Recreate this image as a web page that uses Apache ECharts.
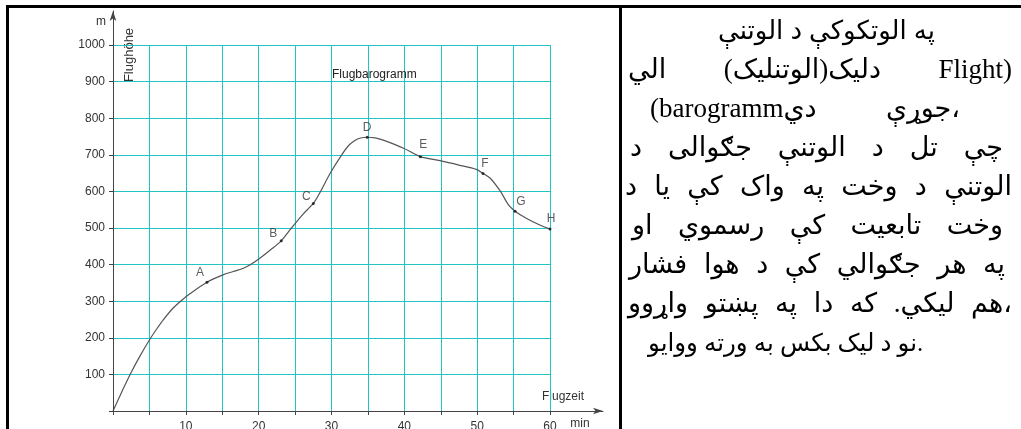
<!DOCTYPE html>
<html>
<head>
<meta charset="utf-8">
<script src="https://cdn.jsdelivr.net/npm/echarts@6/dist/echarts.min.js"></script>
<style>
  body { margin: 0; background: #fff; }
  #page { position: relative; width: 1021px; height: 429px; overflow: hidden; background: #fff; }
  #chart { position: absolute; left: 0; top: 0; width: 1021px; height: 429px; }
  .rule { position: absolute; background: #000; }
  .ln {
    position: absolute;
    height: 39px;
    line-height: 39px;
    font-family: "Liberation Serif", "DejaVu Sans", serif;
    font-size: 27px;
    color: #000;
    white-space: nowrap;
    text-align: justify;
    text-align-last: justify;
  }
</style>
</head>
<body>
<div id="page">
  <div id="chart"></div>
  <div class="rule" style="left:6px;top:5px;width:1015px;height:3px"></div>
  <div class="rule" style="left:6px;top:5px;width:3px;height:424px"></div>
  <div class="rule" style="left:619px;top:5px;width:3px;height:424px"></div>

  <div class="ln" dir="ltr" style="top:11px;left:718px;width:217px">په الوتکوکې د الوتنې</div>
  <div class="ln" dir="ltr" style="top:50px;left:628px;width:384px">دلیک(الوتنلیک) الي Flight)</div>
  <div class="ln" dir="ltr" style="top:89px;left:650px;width:310px">(barogrammجوړې دي،</div>
  <div class="ln" dir="ltr" style="top:128px;left:630px;width:373px">چې تل  د الوتنې جګوالی د</div>
  <div class="ln" dir="ltr" style="top:167px;left:625px;width:387px">الوتنې د وخت په واک کې  یا د</div>
  <div class="ln" dir="ltr" style="top:206px;left:632px;width:371px">وخت   تابعیت کې رسموي  او</div>
  <div class="ln" dir="ltr" style="top:245px;left:629px;width:376px">په هر جګوالي کې د هوا فشار</div>
  <div class="ln" dir="ltr" style="top:284px;left:628px;width:384px">هم لیکي. که دا په پښتو واړوو،</div>
  <div class="ln" dir="ltr" style="top:323px;left:648px;width:274px">نو د لیک بکس به ورته ووایو.</div>
</div>

<script>
// flight time (min) and altitude (m)
const flightMinutes = [0, 1.2, 2.4, 3.7, 5, 6.0, 6.9, 8.2, 9.4, 10.6, 12.9, 15.1, 16.5, 17.9, 18.9, 20.2, 21.6, 23.1, 24.5, 26.1, 27.5, 28.5, 29.8, 31.4, 32.3, 33.2, 34.0, 34.9, 36.0, 37.1, 39.9, 42.2, 44.9, 47.5, 49.9, 50.8, 51.8, 53.2, 54.3, 55.2, 56.8, 58.6, 60];
const flightHeights = [0, 52, 102, 150, 194, 224, 249, 280, 302, 321, 352, 372, 381, 390, 400, 418, 440, 465, 500, 538, 567, 600, 649, 700, 724, 739, 746, 748, 746, 740, 718, 695, 684, 672, 660, 649, 636, 600, 563, 546, 526, 508, 497];

// marked points A..H
const markNames = ['A', 'B', 'C', 'D', 'E', 'F', 'G', 'H'];
const markMinutes = [12.9, 23.1, 27.5, 34.9, 42.2, 50.8, 55.2, 60];
const markHeights = [352, 465, 567, 748, 695, 649, 546, 497];

// tick labels
const minuteLabels = [10, 20, 30, 40, 50, 60];
const heightLabels = [100, 200, 300, 400, 500, 600, 700, 800, 900, 1000];

const FONT = '"Liberation Sans", Arial, sans-serif';
const TXT = '#333';
const GRIDCOL = '#22c4c4';

// label nudges for the letters (px)
const letterShift = [[-7, -9], [-8, -7], [-7, -7], [0, -10], [3, -12], [2, -10], [6, -9], [1, -10]];

const chart = echarts.init(document.getElementById('chart'), null, { renderer: 'canvas' });

const option = {
  backgroundColor: 'transparent',
  animation: false,
  title: {
    text: 'Flugbarogramm',
    left: 332,
    top: 69,
    padding: 0,
    textStyle: { fontSize: 12, fontWeight: 'normal', color: '#222', fontFamily: FONT },
  },
  grid: [
    { left: 113, top: 45, right: 471, bottom: 18, outerBoundsMode: 'none', containLabel: false },
    { left: 113, top: 11, right: 418, bottom: 18, outerBoundsMode: 'none', containLabel: false },
  ],
  xAxis: [
    {
      gridIndex: 0,
      type: 'value',
      min: 0,
      max: 60,
      interval: 5,
      axisLine: { show: false },
      axisTick: { show: true, length: 4, lineStyle: { color: '#444' } },
      axisLabel: {
        margin: 10,
        color: TXT,
        fontSize: 12,
        fontFamily: FONT,
        formatter: (v) => (minuteLabels.includes(v) ? String(v) : ''),
      },
      splitLine: { show: true, lineStyle: { color: GRIDCOL, width: 1 } },
    },
    {
      gridIndex: 1,
      type: 'value',
      min: 0,
      max: 1,
      z: 5,
      axisLine: {
        show: true,
        symbol: ['none', 'arrow'],
        symbolSize: [5, 10],
        lineStyle: { color: '#444', width: 1 },
      },
      axisTick: { show: false },
      axisLabel: { show: false },
      splitLine: { show: false },
    },
  ],
  yAxis: [
    {
      gridIndex: 0,
      type: 'value',
      min: 0,
      max: 1000,
      interval: 100,
      axisLine: { show: false },
      axisTick: { show: true, length: 4, lineStyle: { color: '#444' } },
      axisLabel: {
        margin: 8,
        color: TXT,
        fontSize: 12,
        fontFamily: FONT,
        formatter: (v) => (heightLabels.includes(v) ? String(v) : ''),
      },
      splitLine: { show: true, lineStyle: { color: GRIDCOL, width: 1 } },
    },
    {
      gridIndex: 1,
      type: 'value',
      min: 0,
      max: 1,
      z: 5,
      axisLine: {
        show: true,
        symbol: ['none', 'arrow'],
        symbolSize: [5, 10],
        lineStyle: { color: '#444', width: 1 },
      },
      axisTick: { show: false },
      axisLabel: { show: false },
      splitLine: { show: false },
    },
  ],
  series: [
    {
      name: 'Flughöhe',
      type: 'line',
      xAxisIndex: 0,
      yAxisIndex: 0,
      data: flightMinutes.map((m, i) => [m, flightHeights[i]]),
      smooth: 0.3,
      showSymbol: false,
      symbol: 'none',
      lineStyle: { color: '#555', width: 1.2 },
      z: 3,
    },
    {
      name: 'Punkte',
      type: 'scatter',
      xAxisIndex: 0,
      yAxisIndex: 0,
      symbolSize: 3,
      itemStyle: { color: '#111' },
      label: {
        show: true,
        position: 'inside',
        formatter: '{b}',
        color: TXT,
        fontSize: 12,
        fontFamily: FONT,
      },
      data: markNames.map((n, i) => ({
        name: n,
        value: [markMinutes[i], markHeights[i]],
        label: { offset: letterShift[i] },
      })),
      z: 4,
    },
  ],
  graphic: [
    { type: 'text', x: 101, y: 22, style: { text: 'm', fill: TXT, font: '12px ' + FONT, textAlign: 'center', textVerticalAlign: 'middle' } },
    { type: 'text', x: 129, y: 55, rotation: Math.PI / 2, style: { text: 'Flughöhe', fill: TXT, font: '13px ' + FONT, textAlign: 'center', textVerticalAlign: 'middle' } },
    { type: 'text', x: 563, y: 397, style: { text: 'Flugzeit', fill: TXT, font: '12px ' + FONT, textAlign: 'center', textVerticalAlign: 'middle' } },
    { type: 'text', x: 580, y: 424, style: { text: 'min', fill: TXT, font: '12px ' + FONT, textAlign: 'center', textVerticalAlign: 'middle' } },
  ],
};

chart.setOption(option);

// shrink a text line if it does not fit its box
document.querySelectorAll('.ln').forEach((el) => {
  let size = 27;
  while (el.scrollWidth > el.clientWidth + 1 && size > 16) {
    size -= 0.5;
    el.style.fontSize = size + 'px';
  }
});
</script>
</body>
</html>
